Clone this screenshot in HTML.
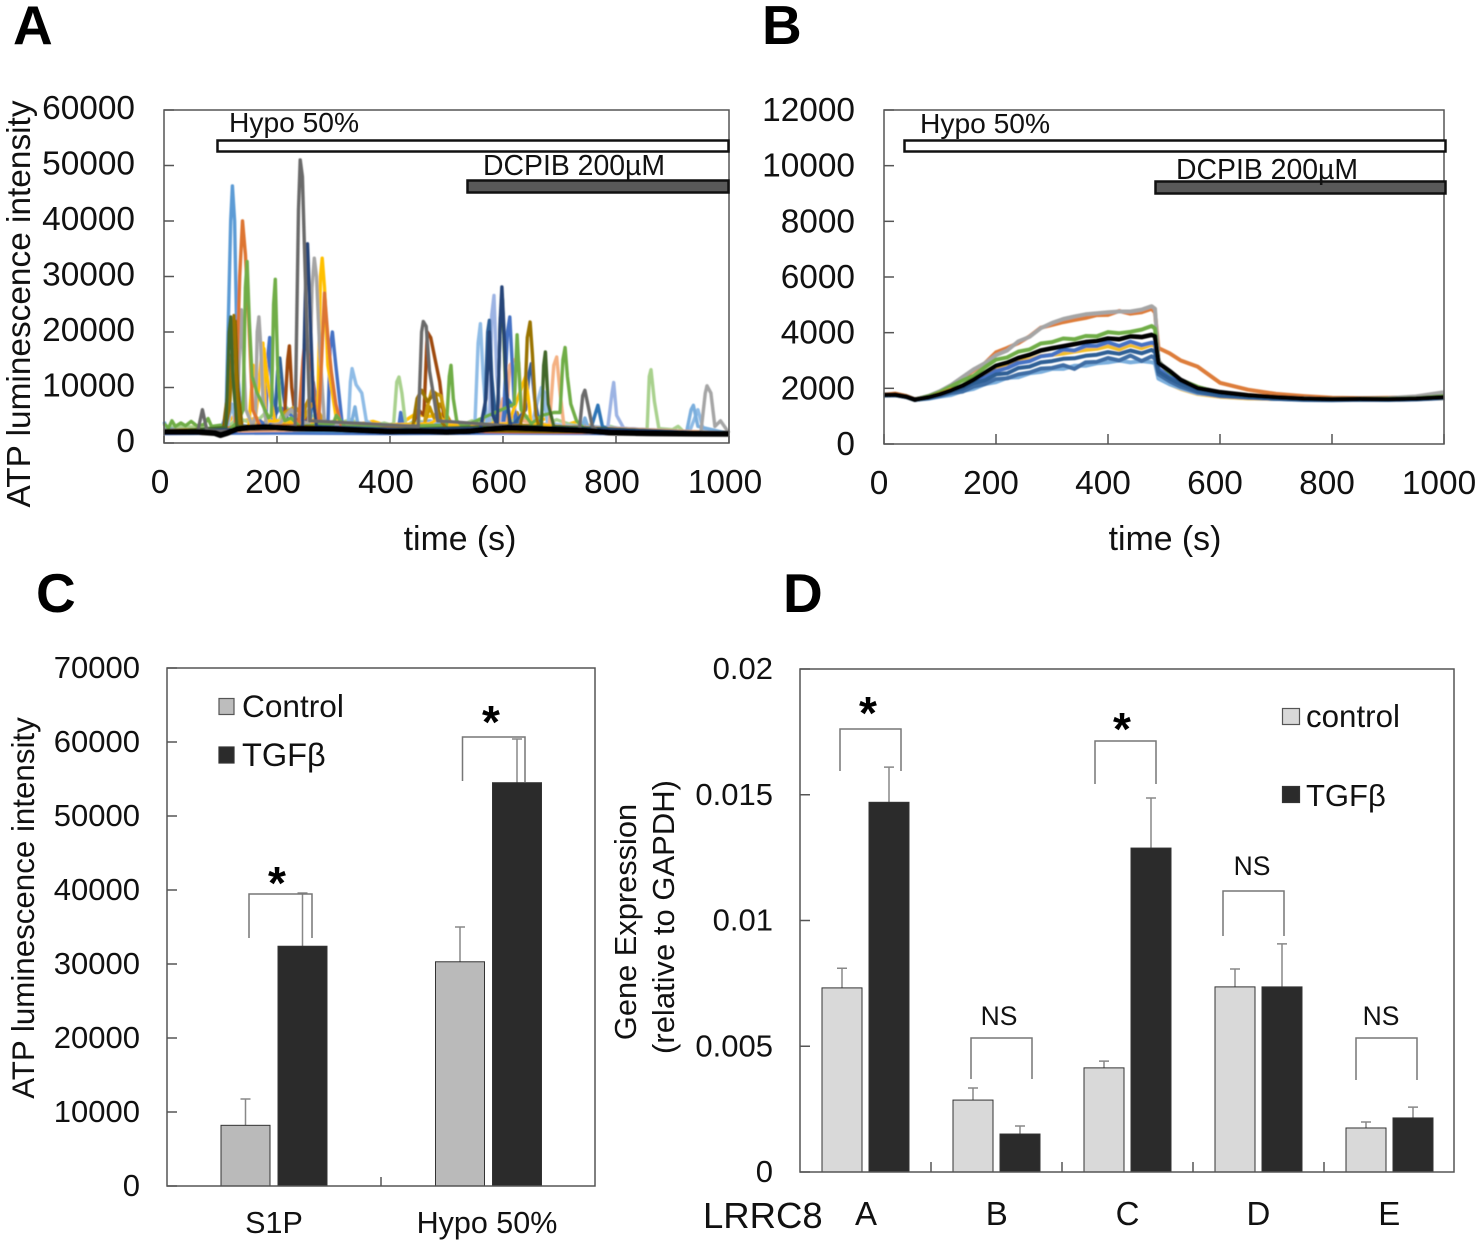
<!DOCTYPE html>
<html lang="en">
<head>
<meta charset="utf-8">
<title>ATP release and LRRC8 expression</title>
<style>
html,body{margin:0;padding:0;background:#fff;}
svg{display:block;font-family:"Liberation Sans",sans-serif;}
text{fill:#111;}
</style>
</head>
<body>
<svg id="figure" xmlns="http://www.w3.org/2000/svg" width="1479" height="1243" viewBox="0 0 1479 1243">
<defs><filter id="soft" x="-5%" y="-5%" width="110%" height="110%"><feGaussianBlur stdDeviation="0.5"/></filter></defs>
<rect x="0" y="0" width="1479" height="1243" fill="#fff"/>
<g id="traces-a" filter="url(#soft)"></g>
<g id="traces-b" filter="url(#soft)"></g>
<g id="bars-c"></g>
<g id="bars-d"></g>
<g id="axes"></g>

<text x="13" y="44" font-size="55" font-weight="bold" style="fill:#000">A</text>
<text x="762" y="44" font-size="55" font-weight="bold" style="fill:#000">B</text>
<text x="36" y="612" font-size="55" font-weight="bold" style="fill:#000">C</text>
<text x="783" y="612" font-size="55" font-weight="bold" style="fill:#000">D</text>

<text transform="translate(30,304) rotate(-90)" text-anchor="middle" font-size="33.4">ATP luminescence intensity</text>
<text x="460" y="550" text-anchor="middle" font-size="33.8">time (s)</text>
<text x="1165" y="550" text-anchor="middle" font-size="33.8">time (s)</text>
<text transform="translate(34,908) rotate(-90)" text-anchor="middle" font-size="31.3">ATP luminescence intensity</text>
<text transform="translate(636,922) rotate(-90)" text-anchor="middle" font-size="30.8">Gene Expression</text>
<text transform="translate(674,917) rotate(-90)" text-anchor="middle" font-size="31">(relative to GAPDH)</text>

<rect x="217.5" y="140.5" width="511" height="11" fill="#fff" stroke="#111" stroke-width="2.5"/>
<text x="229" y="132" font-size="28.2">Hypo 50%</text>
<rect x="467.5" y="180.5" width="261" height="12" fill="#595959" stroke="#111" stroke-width="2.5"/>
<text x="483" y="175" font-size="28.4">DCPIB 200µM</text>

<rect x="904.5" y="140.5" width="541" height="11" fill="#fff" stroke="#111" stroke-width="2.5"/>
<text x="920" y="133" font-size="28.2">Hypo 50%</text>
<rect x="1155.5" y="181.5" width="290" height="12" fill="#595959" stroke="#111" stroke-width="2.5"/>
<text x="1176" y="179" font-size="28.4">DCPIB 200µM</text>

<rect x="219" y="698.5" width="15" height="16" fill="#bdbdbd" stroke="#555" stroke-width="1.2"/>
<text x="242" y="717" font-size="31.6">Control</text>
<rect x="219" y="747" width="15" height="16" fill="#2b2b2b" stroke="#333" stroke-width="1.2"/>
<text x="242" y="766" font-size="32.5">TGFβ</text>

<rect x="1282.5" y="708.5" width="17" height="16" fill="#d9d9d9" stroke="#555" stroke-width="1.2"/>
<text x="1306" y="727" font-size="31.3">control</text>
<rect x="1282.5" y="786.5" width="17" height="16" fill="#2b2b2b" stroke="#333" stroke-width="1.2"/>
<text x="1306" y="806" font-size="31">TGFβ</text>

<text x="703" y="1228" font-size="36.5">LRRC8</text>

<path d="M249 938V894H312V938" fill="none" stroke="#777" stroke-width="1.5"/>
<path d="M462.500 781V737H525V782" fill="none" stroke="#777" stroke-width="1.5"/>
<text x="277" y="899" text-anchor="middle" font-size="46" font-weight="bold" style="fill:#000">*</text>
<text x="491" y="738" text-anchor="middle" font-size="46" font-weight="bold" style="fill:#000">*</text>

<path d="M840 771V729H901V771" fill="none" stroke="#777" stroke-width="1.5"/>
<path d="M971 1079V1038H1032V1079" fill="none" stroke="#777" stroke-width="1.5"/>
<path d="M1095 784V741H1156V784" fill="none" stroke="#777" stroke-width="1.5"/>
<path d="M1223 936V891H1284V936" fill="none" stroke="#777" stroke-width="1.5"/>
<path d="M1356 1080V1038H1417V1080" fill="none" stroke="#777" stroke-width="1.5"/>
<text x="868" y="729" text-anchor="middle" font-size="46" font-weight="bold" style="fill:#000">*</text>
<text x="1122" y="745" text-anchor="middle" font-size="46" font-weight="bold" style="fill:#000">*</text>
<text x="999" y="1025" text-anchor="middle" font-size="26.5">NS</text>
<text x="1252" y="875" text-anchor="middle" font-size="26.5">NS</text>
<text x="1381" y="1025" text-anchor="middle" font-size="26.5">NS</text>
</svg>

<script>
// ---------- Panel A data: each trace is a list of [time s, intensity] ----------
const traceA01 = [[0,3800],[6,2600],[20,2400],[100,2300],[110,5000],[118,40000],[121,46300],[125,40000],[130,14000],[137,3200],[180,2300],[300,2100],[420,2000],[600,2200],[700,2000],[1000,1600]];
const traceA02 = [[0,2000],[100,2400],[126,3000],[134,30000],[139,40000],[144,34000],[150,22000],[157,6000],[170,3000],[238,3200],[246,15000],[250,19000],[256,15500],[262,13000],[270,3500],[274,4000],[279,15000],[284,27000],[290,19000],[296,13000],[304,7000],[314,3000],[400,2200],[1000,1700]];
const traceA03 = [[0,2400],[100,2200],[128,3000],[137,24000],[145,6000],[157,3000],[162,5000],[165,20000],[168,22700],[171,18000],[175,8000],[182,3000],[205,3500],[225,6000],[240,4500],[256,3000],[262,28000],[266,33300],[270,30000],[275,18000],[284,3500],[400,2400],[750,1900],[950,1800],[958,9000],[961,10300],[968,9000],[975,3000],[985,4000],[1000,1800]];
const traceA04 = [[0,2300],[100,2500],[150,3000],[158,14000],[165,8000],[175,18000],[180,4000],[260,3500],[272,5000],[277,30000],[280,33300],[284,28000],[290,14000],[305,4500],[320,3000],[470,3500],[490,4500],[505,3200],[610,3500],[640,12000],[650,3500],[700,3000],[740,2000],[1000,1700]];
const traceA05 = [[0,2300],[100,2300],[162,3000],[170,4000],[180,3200],[184,16000],[187,19000],[191,10000],[195,4000],[290,3000],[294,17000],[298,20000],[304,14000],[316,3000],[415,2500],[419,5500],[424,2500],[600,2800],[608,20000],[612,22700],[616,15000],[622,3000],[1000,1700]];
const traceA06 = [[0,3500],[8,2700],[14,4000],[20,3000],[30,3600],[38,3100],[48,3900],[58,3100],[70,3300],[78,4400],[84,3000],[100,3200],[112,2200],[122,3000],[132,4000],[140,6000],[144,28000],[147,32700],[151,22000],[156,12000],[165,9000],[172,7500],[185,4500],[190,5000],[194,25000],[197,29500],[201,14000],[206,6000],[214,4000],[225,4500],[240,3000],[300,3500],[305,5000],[320,3000],[400,3000],[490,3200],[500,3300],[505,12000],[508,14000],[512,8000],[518,4000],[530,3000],[620,7000],[625,19500],[632,6000],[650,3500],[670,5000],[690,5500],[701,5500],[706,15000],[710,17200],[714,12000],[720,7000],[730,4000],[745,2500],[800,2000],[1000,1700]];
const traceA07 = [[0,2200],[196,2600],[201,13000],[205,15300],[211,9000],[220,3000],[250,3500],[262,8000],[270,4500],[290,3000],[300,3400],[400,2200],[560,2400],[568,6000],[573,20000],[576,22100],[580,12000],[588,3000],[620,3500],[640,6000],[646,12500],[650,14300],[656,8000],[665,3000],[1000,1700]];
const traceA08 = [[0,2000],[212,2600],[219,15000],[222,17500],[226,10000],[232,5000],[238,3000],[246,4000],[252,5000],[260,3000],[400,2200],[440,3000],[450,6000],[460,5000],[466,20000],[472,19000],[480,15000],[488,11000],[495,5000],[502,3000],[1000,1600]];
const traceA09 = [[0,2000],[60,2200],[68,6000],[76,2300],[100,2100],[232,3000],[238,42000],[241,51000],[245,48000],[250,30000],[258,4000],[450,3000],[456,20000],[459,21900],[464,21000],[470,13000],[478,8000],[484,4000],[735,2200],[741,8500],[745,9500],[752,6000],[758,3000],[770,2000],[1000,1700]];
const traceA10 = [[0,2000],[108,2200],[116,6000],[124,23000],[129,8000],[134,3000],[300,2400],[440,2800],[448,8000],[456,9500],[466,7500],[480,9000],[490,4000],[500,2600],[630,3200],[638,6000],[643,19000],[648,21800],[652,16000],[658,5000],[665,2500],[1000,1600]];
const traceA11 = [[0,2000],[245,2800],[251,30000],[254,35900],[258,25000],[264,8000],[270,3000],[420,2400],[560,2600],[570,8000],[576,20000],[582,5000],[590,3000],[595,22000],[598,28100],[602,20000],[608,7000],[614,3000],[1000,1700]];
const traceA12 = [[0,2000],[110,2800],[115,20000],[118,22700],[122,12000],[129,3000],[400,2400],[590,3000],[595,22000],[599,26000],[604,12000],[612,3000],[668,3000],[672,14000],[675,16400],[680,7000],[690,3000],[1000,1600]];
const traceA13 = [[0,2200],[100,2300],[112,3000],[120,7000],[128,3000],[200,2800],[208,4000],[326,3000],[330,11000],[333,13400],[340,10500],[350,9000],[358,4000],[370,3200],[380,2500],[550,2400],[556,18000],[560,21500],[565,12000],[572,2800],[665,3000],[672,8000],[680,3000],[930,2000],[945,6000],[955,2200],[1000,1800]];
const traceA14 = [[0,2000],[185,2800],[205,6500],[225,5000],[240,3000],[400,2400],[740,3000],[1000,1700]];
const traceA15 = [[0,2100],[576,2800],[580,23000],[584,26600],[589,12000],[597,3000],[785,2400],[793,9000],[796,10900],[801,5000],[815,2400],[1000,1800]];
const traceA16 = [[0,2000],[406,2800],[412,11000],[416,11900],[421,9000],[428,3000],[840,2000],[855,2400],[859,12000],[862,13200],[868,7500],[876,2600],[900,2400],[910,3000],[920,2000],[1000,1700]];
const traceA17 = [[0,2000],[590,2800],[600,8000],[605,3500],[612,14000],[620,15000],[628,14500],[634,4000],[682,3200],[690,14000],[695,15500],[701,9000],[708,3000],[1000,1800]];
const traceA18 = [[0,2100],[240,2800],[252,7000],[262,9000],[270,5000],[278,3000],[400,2400],[460,3000],[470,6500],[478,4500],[488,7000],[498,5500],[510,3200],[620,3500],[625,5500],[632,3200],[700,3000],[735,2600],[1000,1700]];
const traceA19 = [[0,2000],[258,3000],[264,11000],[270,7500],[280,3000],[600,3000],[608,8000],[618,6500],[628,3000],[755,2400],[764,5500],[768,6800],[776,3000],[790,2400],[1000,1700]];
const traceA20 = [[0,2000],[330,2800],[338,6500],[344,2800],[420,2400],[450,3500],[470,4000],[490,3500],[740,2800],[745,4500],[750,3000],[925,2000],[933,6000],[937,6800],[945,3000],[1000,1700]];
const traceA21 = [[0,1700],[200,1800],[400,1700],[600,1800],[800,1700],[1000,1600]];
const traceA22 = [[0,2700],[30,3000],[60,2800],[110,2500],[130,4500],[160,3400],[180,5500],[200,3200],[215,6500],[240,4400],[270,5000],[300,3300],[330,4200],[360,2900],[390,3600],[420,2700],[445,4000],[470,3600],[495,4600],[520,2900],[545,4000],[570,3500],[590,4800],[620,4000],[645,4800],[670,3200],[695,4200],[720,3300],[760,2500],[790,3000],[820,2100],[1000,1800]];
const traceA23 = [[0,2600],[50,2900],[100,2400],[125,5000],[140,4000],[165,4500],[180,3200],[205,4200],[230,3400],[255,4600],[280,3000],[310,4000],[340,3300],[370,3900],[400,3000],[420,3600],[445,5200],[470,4800],[490,5200],[515,3300],[540,3000],[565,4300],[600,3300],[625,5000],[650,3600],[675,4400],[700,2900],[730,3800],[780,2400],[1000,1800]];
const traceA24 = [[0,2200],[50,2600],[100,2200],[125,3400],[150,2900],[185,3900],[210,2600],[240,3700],[270,2900],[300,3900],[330,2600],[355,3500],[380,2900],[405,3400],[430,2700],[455,3500],[480,2900],[510,3400],[540,2500],[565,3400],[590,2900],[615,3800],[640,3000],[665,3600],[690,2700],[715,3200],[740,2400],[1000,1700]];
const traceA25 = [[0,2200],[105,2600],[113,9000],[120,16000],[126,22000],[131,10000],[138,3000],[250,3000],[400,2400],[1000,1700]];
const traceA26 = [[0,2100],[160,3000],[170,12000],[177,17000],[185,10000],[196,4000],[400,2600],[1000,1700]];
const traceA27 = [[0,2100],[650,3000],[660,7000],[668,10000],[674,9000],[682,3500],[780,2400],[1000,1700]];
const traceA28 = [[0,2100],[206,3000],[214,5500],[232,6500],[248,4500],[262,7000],[272,6000],[285,3400],[460,3000],[466,6500],[474,9500],[480,9000],[490,8500],[500,4000],[520,3000],[1000,1700]];
const traceAMean = [[0,2000],[60,2000],[90,1800],[100,1440],[110,1750],[130,2500],[150,2800],[180,2900],[230,2600],[300,2500],[400,2050],[450,2100],[500,2000],[540,2100],[575,2500],[610,2750],[680,2500],[740,2250],[790,1900],[860,1750],[940,1700],[1000,1650]];

const tracesA = [traceA21,traceA24,traceA23,traceA22,traceA13,traceA27,traceA01,traceA16,traceA14,traceA20,traceA18,traceA15,traceA17,traceA19,traceA05,traceA07,traceA08,traceA26,traceA28,traceA04,traceA03,traceA02,traceA06,traceA25,traceA10,traceA12,traceA11,traceA09,traceAMean];
const colorsA = ['#4472C4','#8CC168','#FFC000','#A9D18E','#8FBCE6','#9DC3E6','#5B9BD5','#A9D18E','#4472C4','#7CAFDD','#BF9000','#9CB3E3','#F4B183','#2E75B6','#4472C4','#2F6199','#9E480E','#FFC000','#C99A10','#FFC000','#A5A5A5','#DD7430','#70AD47','#7F6000','#997300','#43682B','#264478','#6B6B6B','#000000'];

// ---------- Panel B data ----------
const timesB = [0,20,40,55,80,100,120,140,160,180,200,220,240,260,280,300,320,340,360,380,400,420,440,460,478,484,490,510,530,560,600,650,700,750,800,850,900,950,1000];
const traceBLight = [1740,1760,1690,1580,1630,1700,1760,1900,1980,2150,2220,2380,2400,2540,2590,2700,2700,2810,2810,2900,2930,3000,2930,2980,2940,2900,2350,2150,2000,1820,1740,1680,1620,1600,1580,1600,1590,1620,1660];
const traceBSteel = [1750,1750,1700,1590,1640,1720,1830,1880,2060,2150,2330,2360,2500,2570,2710,2730,2830,2700,2930,2950,3090,3000,3180,2980,3150,3060,2500,2250,2050,1850,1720,1660,1620,1580,1570,1590,1580,1600,1650];
const traceBBlue2 = [1750,1760,1690,1590,1670,1770,1890,1980,2190,2290,2500,2540,2730,2780,2930,2980,3060,3080,3170,3210,3300,3240,3360,3260,3380,3300,2600,2350,2150,1900,1750,1680,1620,1600,1590,1600,1590,1620,1660];
const traceBYellow = [1750,1770,1700,1590,1690,1810,1960,2060,2280,2430,2710,2770,2960,3020,3160,3200,3250,3320,3380,3420,3510,3400,3560,3440,3570,3520,2450,2150,1980,1800,1700,1640,1620,1610,1600,1610,1600,1620,1650];
const traceBBlue = [1740,1760,1690,1590,1680,1790,1930,2020,2230,2380,2620,2730,2910,2980,3150,3200,3390,3360,3520,3520,3650,3520,3680,3550,3640,3600,2700,2400,2180,1930,1800,1710,1650,1620,1600,1610,1600,1620,1660];
const traceBGreen = [1750,1770,1700,1590,1720,1870,2080,2280,2450,2760,3030,3110,3320,3400,3610,3660,3790,3760,3880,3870,4020,3980,4030,4110,4240,4150,2950,2550,2300,2050,1830,1730,1670,1640,1620,1630,1630,1650,1720];
const traceBOrange = [1770,1810,1720,1600,1710,1860,2070,2360,2640,2900,3290,3450,3630,3870,4180,4280,4380,4460,4530,4630,4640,4780,4680,4730,4860,4720,3450,3260,3000,2780,2200,1950,1800,1720,1660,1650,1660,1680,1740];
const traceBGray = [1750,1780,1700,1590,1730,1900,2120,2400,2680,2900,3190,3360,3690,3850,4160,4350,4490,4580,4660,4700,4730,4760,4760,4830,4950,4860,3000,2500,2150,1950,1800,1720,1680,1650,1620,1640,1650,1710,1860];
const traceBMean = [1760,1770,1700,1590,1680,1790,1930,2090,2310,2560,2810,2920,3090,3200,3360,3440,3510,3590,3660,3700,3790,3760,3870,3840,3920,3880,2910,2620,2300,2010,1860,1750,1680,1630,1610,1620,1610,1630,1680];
const tracesB = [traceBOrange,traceBGray,traceBGreen,traceBYellow,traceBBlue,traceBLight,traceBSteel,traceBBlue2,traceBMean];
const colorsB = ['#DD7D3A','#A5A5A5','#70AD47','#F2BE2C','#4472C4','#7CAFDD','#3F6EA5','#2E5F95','#000000'];

// ---------- Panel C data ----------
const groupsC = ['S1P','Hypo 50%'];
const controlC = [8200,30300];
const controlErrC = [11750,35000];
const tgfC = [32400,54500];
const tgfErrC = [39600,60400];

// ---------- Panel D data ----------
const groupsD = ['A','B','C','D','E'];
const controlD = [0.00732,0.00286,0.00414,0.00736,0.00175];
const controlErrD = [0.0081,0.00334,0.00441,0.00807,0.00199];
const tgfD = [0.0147,0.00151,0.01288,0.00736,0.00215];
const tgfErrD = [0.0161,0.00183,0.01487,0.00907,0.00258];

// ---------- Tick labels ----------
const ticksTime = [0,200,400,600,800,1000];
const ticksYA = [0,10000,20000,30000,40000,50000,60000];
const ticksYB = [0,2000,4000,6000,8000,10000,12000];
const ticksYC = [0,10000,20000,30000,40000,50000,60000,70000];
const ticksYD = ['0','0.005','0.01','0.015','0.02'];

// ---------- Axis functions ----------
const xA = t => 164 + t * 0.565;
const yA = v => 443 - v * 333 / 60000;
const xB = t => 884 + t * 0.56;
const yB = v => 444 - v * 334 / 12000;
const yC = v => 1186 - v * 518 / 70000;
const yD = v => 1172 - v * 503 / 0.02;
const xC = (i, k) => 221 + i * 214.5 + k * 57;
const xD = (i, k) => 822 + i * 131 + k * 47;

const NS = 'http://www.w3.org/2000/svg';
function make(tag, parent, attrs) {
  const el = document.createElementNS(NS, tag);
  for (const key in attrs) el.setAttribute(key, attrs[key]);
  parent.appendChild(el);
  return el;
}
const axes = document.getElementById('axes');

// Panel A traces
const groupA = document.getElementById('traces-a');
tracesA.forEach((trace, i) => {
  const last = i === tracesA.length - 1;
  const el = make('polyline', groupA, {
    points: trace.map(p => xA(p[0]).toFixed(1) + ',' + yA(p[1]).toFixed(1)).join(' '),
    fill: 'none', stroke: colorsA[i], 'stroke-width': last ? 6 : 3.4, 'stroke-linejoin': 'round'
  });
  
  
});

// Panel B traces
const groupB = document.getElementById('traces-b');
tracesB.forEach((trace, i) => {
  const last = i === tracesB.length - 1;
  const el = make('polyline', groupB, {
    points: trace.map((v, j) => xB(timesB[j]).toFixed(1) + ',' + yB(v).toFixed(1)).join(' '),
    fill: 'none', stroke: colorsB[i], 'stroke-width': last ? 4.6 : 4, 'stroke-linejoin': 'round'
  });
  
  
});

// Bars with error bars
function drawBar(parent, x, w, top, errTop, base, fill) {
  const err = make('path', parent, {
    d: 'M' + (x + w / 2) + ' ' + top + 'V' + errTop + 'M' + (x + w / 2 - 5) + ' ' + errTop + 'H' + (x + w / 2 + 5),
    stroke: '#888', 'stroke-width': 1.5, fill: 'none'
  });
  
  
  const bar = make('rect', parent, {
    x: x, y: top, width: w, height: base - top, fill: fill, stroke: '#333', 'stroke-width': 1
  });
  
  
}
const groupC = document.getElementById('bars-c');
groupsC.forEach((g, i) => {
  drawBar(groupC, xC(i, 0), 49, yC(controlC[i]), yC(controlErrC[i]), 1186, '#bababa');
  drawBar(groupC, xC(i, 1), 49, yC(tgfC[i]), yC(tgfErrC[i]), 1186, '#2b2b2b');
  const label = make('text', axes, { x: 274 + i * 213, y: 1233, 'text-anchor': 'middle', 'font-size': 30.5 });
  label.textContent = g;
  
  
});
const groupD = document.getElementById('bars-d');
groupsD.forEach((g, i) => {
  drawBar(groupD, xD(i, 0), 40, yD(controlD[i]), yD(controlErrD[i]), 1172, '#d9d9d9');
  drawBar(groupD, xD(i, 1), 40, yD(tgfD[i]), yD(tgfErrD[i]), 1172, '#2b2b2b');
  const label = make('text', axes, { x: 866 + i * 130.8, y: 1225, 'text-anchor': 'middle', 'font-size': 33 });
  label.textContent = g;
  
  
});

// Frames
function frame(x, y, w, h, name) {
  const el = make('rect', axes, { x: x, y: y, width: w, height: h, fill: 'none', stroke: '#555', 'stroke-width': 1.5 });
  
  
}
frame(164, 110, 565, 333, 'panel-a-plot-frame');
frame(884, 110, 560, 334, 'panel-b-plot-frame');
frame(167, 668, 428, 518, 'panel-c-plot-frame');
frame(800, 669, 654, 503, 'panel-d-plot-frame');

// Ticks and tick labels
function tickMark(d, name) {
  const el = make('path', axes, { d: d, stroke: '#555', 'stroke-width': 1.5, fill: 'none' });
  
  
}
function tickLabel(x, y, anchor, size, str, name) {
  const el = make('text', axes, { x: x, y: y, 'text-anchor': anchor, 'font-size': size });
  el.textContent = str;
  
  
}
ticksYA.forEach(v => {
  tickMark('M164 ' + yA(v) + 'H174', 'panel-a-y-tick');
  tickLabel(135, yA(v) + 9, 'end', 33.4, String(v), 'panel-a-y-tick-label');
});
ticksYB.forEach(v => {
  tickMark('M884 ' + yB(v) + 'H894', 'panel-b-y-tick');
  tickLabel(855, yB(v) + 11, 'end', 33.4, String(v), 'panel-b-y-tick-label');
});
ticksTime.forEach(t => {
  tickMark('M' + xA(t) + ' 443V436', 'panel-a-x-tick');
  tickLabel(xA(t) - 4, 493, 'middle', 33.4, String(t), 'panel-a-x-tick-label');
  tickMark('M' + xB(t) + ' 444V434', 'panel-b-x-tick');
  tickLabel(xB(t) - 5, 494, 'middle', 33.4, String(t), 'panel-b-x-tick-label');
});
ticksYC.forEach(v => {
  tickMark('M167 ' + yC(v) + 'H177', 'panel-c-y-tick');
  tickLabel(140, yC(v) + 10, 'end', 31, String(v), 'panel-c-y-tick-label');
});
tickMark('M381 1186V1177', 'panel-c-x-tick');
ticksYD.forEach(v => {
  tickMark('M800 ' + yD(Number(v)) + 'H810', 'panel-d-y-tick');
  tickLabel(773, yD(Number(v)) + 10, 'end', 31, v, 'panel-d-y-tick-label');
});
groupsD.forEach((g, i) => {
  if (i > 0) tickMark('M' + (800 + i * 131) + ' 1172V1162', 'panel-d-x-tick');
});
</script>
</body>
</html>
